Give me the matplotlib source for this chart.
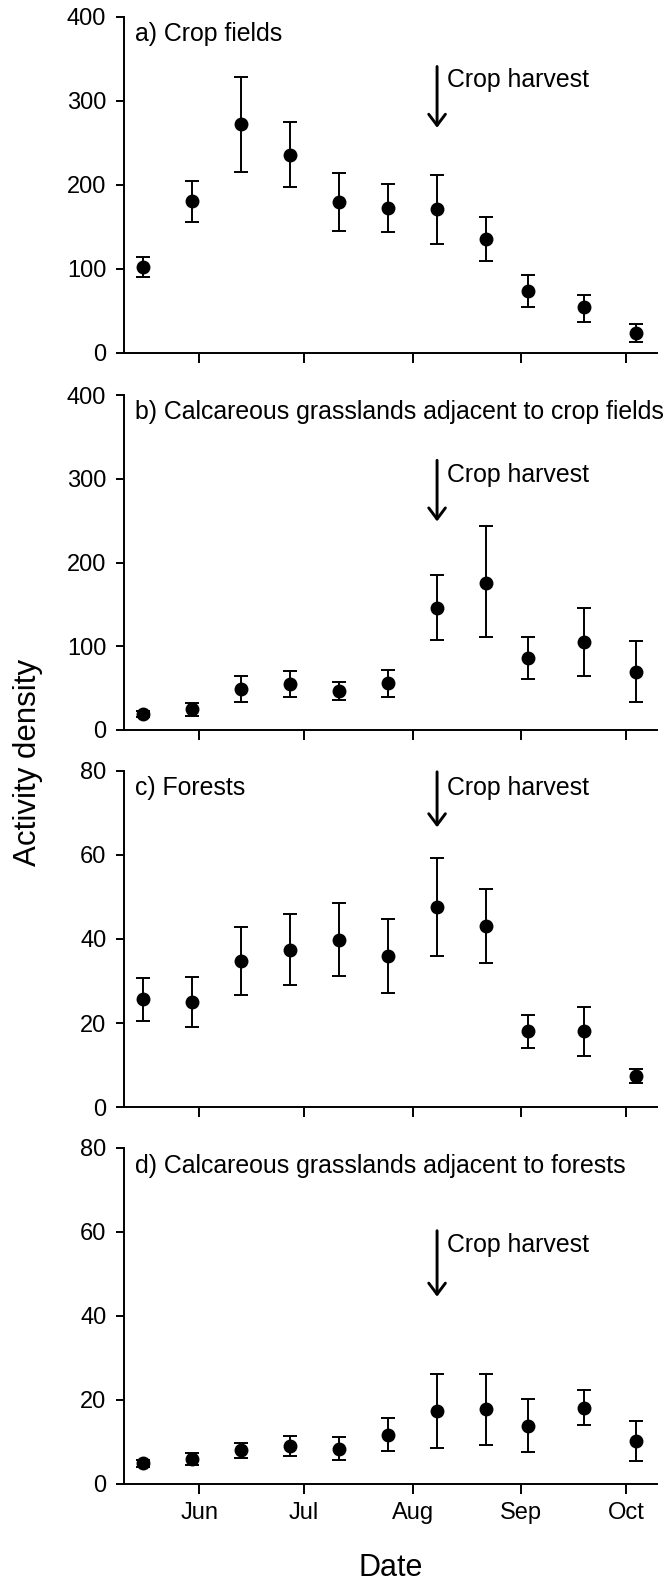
import numpy as np
import matplotlib
matplotlib.use("Agg")
import matplotlib.pyplot as plt
from matplotlib.transforms import offset_copy

plt.rcParams['font.family'] = ['Liberation Sans', 'DejaVu Sans']

# Sampling dates (one pitfall-trap session every ~2 weeks)
sample_dates = np.array(['2014-05-16', '2014-05-30', '2014-06-13', '2014-06-27',
                         '2014-07-11', '2014-07-25', '2014-08-08', '2014-08-22',
                         '2014-09-03', '2014-09-19', '2014-10-04'], dtype='datetime64[D]')
harvest_date = np.datetime64('2014-08-08')
month_ticks = np.array(['2014-06-01', '2014-07-01', '2014-08-01', '2014-09-01',
                        '2014-10-01'], dtype='datetime64[D]')
month_labels = ['Jun', 'Jul', 'Aug', 'Sep', 'Oct']

panel_titles = ['a) Crop fields',
                'b) Calcareous grasslands adjacent to crop fields',
                'c) Forests',
                'd) Calcareous grasslands adjacent to forests']

# Mean activity density with lower / upper error limits
crop_mean = np.array([102, 181, 272, 236, 179, 172, 171, 135, 73, 54, 23])
crop_upper = np.array([114, 205, 328, 275, 214, 201, 212, 162, 92, 69, 34])
crop_lower = np.array([90, 156, 215, 198, 145, 144, 130, 109, 55, 37, 13])

grass_crop_mean = np.array([19, 25, 49, 55, 47, 56, 146, 176, 86, 105, 69])
grass_crop_upper = np.array([23, 32, 64, 71, 57, 72, 185, 243, 111, 146, 106])
grass_crop_lower = np.array([15, 17, 33, 39, 36, 40, 108, 111, 61, 65, 33])

forest_mean = np.array([25.6, 24.9, 34.7, 37.4, 39.8, 36.0, 47.7, 43.2, 18.0, 18.0, 7.4])
forest_upper = np.array([30.8, 30.9, 42.9, 45.9, 48.6, 44.8, 59.3, 52.0, 22.0, 23.7, 9.0])
forest_lower = np.array([20.4, 19.0, 26.7, 29.0, 31.1, 27.1, 36.0, 34.4, 14.1, 12.1, 5.7])

grass_forest_mean = np.array([4.9, 6.0, 8.0, 9.1, 8.3, 11.7, 17.4, 17.8, 13.9, 18.2, 10.3])
grass_forest_upper = np.array([5.7, 7.3, 9.8, 11.4, 11.1, 15.7, 26.2, 26.2, 20.2, 22.4, 15.1])
grass_forest_lower = np.array([4.1, 4.6, 6.3, 6.7, 5.7, 7.8, 8.6, 9.4, 7.6, 14.0, 5.5])

y_max = [400, 400, 80, 80]
y_step = [100, 100, 20, 20]
# arrow top, arrow tip and label baseline for the harvest marker in each panel
harvest_arrow = [(341, 268, 316), (322, 249, 296.5), (79.8, 66.6, 74.3), (60.3, 44.6, 55.3)]

series = [(crop_mean, crop_lower, crop_upper),
          (grass_crop_mean, grass_crop_lower, grass_crop_upper),
          (forest_mean, forest_lower, forest_upper),
          (grass_forest_mean, grass_forest_lower, grass_forest_upper)]

fig = plt.figure(figsize=(6.68, 15.82), dpi=100)
H = 1582.0
W = 668.0
left_px, right_px = 123.7, 656.7
panel_px = [(17, 352.7), (395, 730), (771, 1107), (1148, 1484)]

x_left = np.datetime64('2014-05-10T09:36')
x_right = np.datetime64('2014-10-09T19:12')

axes = []
for i, (top, bot) in enumerate(panel_px):
    ax = fig.add_axes([left_px / W, 1 - bot / H, (right_px - left_px) / W, (bot - top) / H])
    axes.append(ax)
    mean, lo, hi = series[i]
    ax.errorbar(sample_dates, mean, yerr=[mean - lo, hi - mean], fmt='o',
                color='black', ms=9, elinewidth=1.4, capsize=5, capthick=1.4,
                clip_on=False, zorder=3)
    ax.set_xlim(x_left, x_right)
    ax.set_ylim(0, y_max[i])
    ax.set_yticks(np.arange(0, y_max[i] + 1, y_step[i]))
    ax.set_xticks(month_ticks)
    if i == 3:
        ax.set_xticklabels(month_labels)
    else:
        ax.set_xticklabels([])
    for s in ['top', 'right']:
        ax.spines[s].set_visible(False)
    for s in ['left', 'bottom']:
        ax.spines[s].set_linewidth(1.4)
    ax.tick_params(axis='y', direction='out', length=5.5, width=1.4, pad=7, labelsize=17)
    ax.tick_params(axis='x', direction='out', length=7, width=1.4, pad=6, labelsize=17)

    ax.text(0.022, 1 - 24.5 / (bot - top), panel_titles[i], transform=ax.transAxes,
            ha='left', va='baseline', fontsize=17.9)

    a_top, a_tip, t_base = harvest_arrow[i]
    ax.annotate('', xy=(harvest_date, a_tip), xytext=(harvest_date, a_top),
                arrowprops=dict(arrowstyle='->,head_length=0.8,head_width=0.6',
                                lw=2.1, color='black', shrinkA=0, shrinkB=0))
    tr = offset_copy(ax.transData, fig=fig, x=10, y=0, units='dots')
    ax.text(harvest_date, t_base, 'Crop harvest', transform=tr, ha='left',
            va='baseline', fontsize=17.9)

axes[3].set_xlabel('Date', fontsize=22, labelpad=21)
fig.text(28 / W, 1 - 762 / H, 'Activity density', rotation=90, ha='center',
         va='center', fontsize=22.5)

fig.savefig('out.png', dpi=100)
